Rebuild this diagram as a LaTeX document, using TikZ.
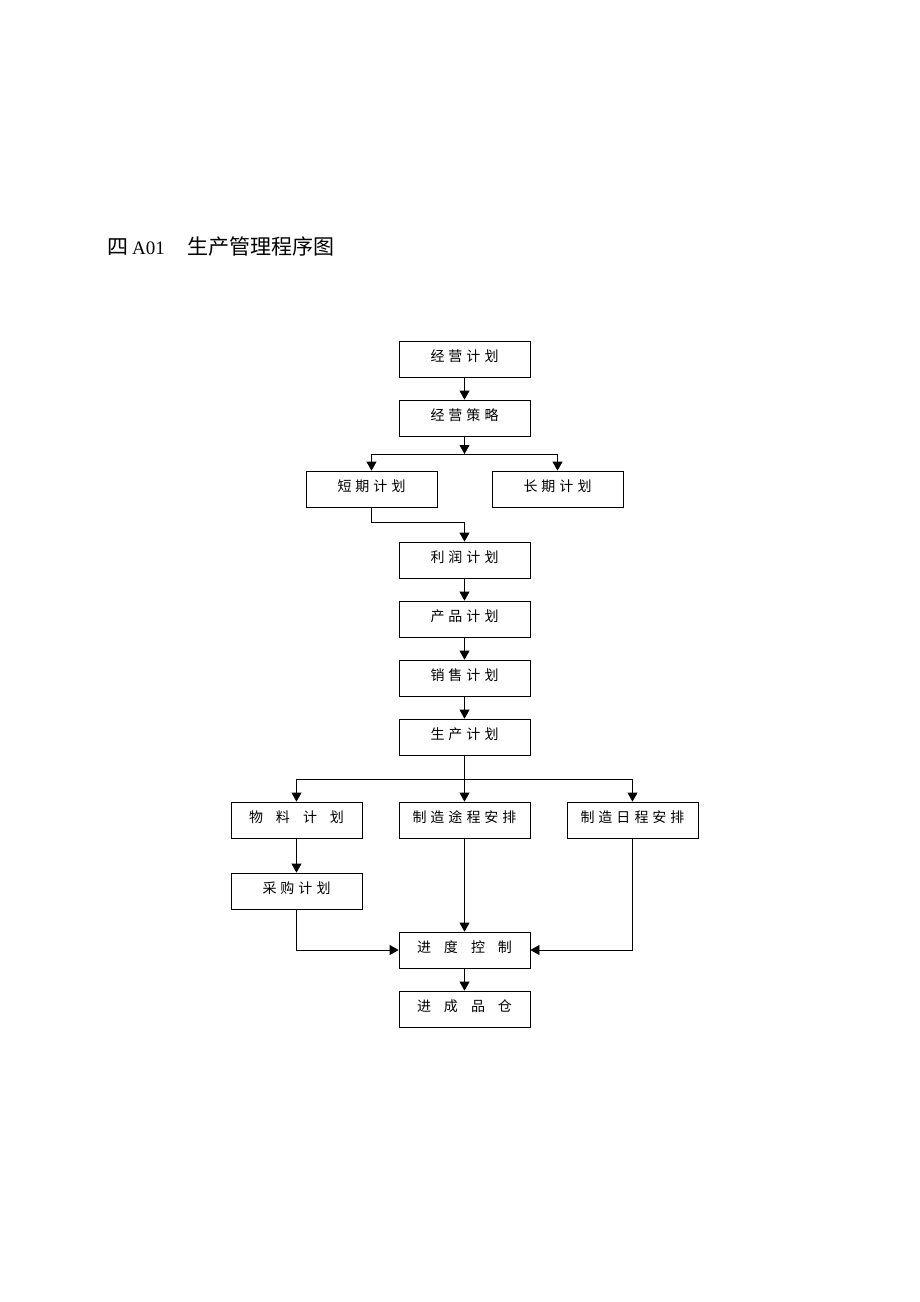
\documentclass[tikz,border=0pt]{standalone}
\usepackage{fontspec}
\setmainfont{Liberation Serif}
\newfontfamily\cjk{Noto Sans CJK SC}
\usetikzlibrary{arrows.meta}
\newcommand\cgap{\hspace{4pt}}
\newcommand\wgap{\hspace{13pt}}

\begin{document}
\begin{tikzpicture}[x=1pt,y=-1pt,
    box/.style={rectangle,draw,line width=0.8pt,minimum width=131pt,minimum height=36pt,inner sep=0pt,
      text height=12pt,text depth=7pt,font=\cjk\fontsize{14pt}{14pt}\selectfont},
    link/.style={-{Triangle[length=9pt,width=10pt]},line width=0.8pt},
    wire/.style={line width=0.8pt}]
    \useasboundingbox (0,0) rectangle (920,1302);
    % title
    \node[anchor=base west,inner sep=0pt] (title) at (107,254)
      {{\cjk\fontsize{21pt}{21pt}\selectfont 四}\hspace{4pt}{\fontsize{19pt}{19pt}\selectfont A01}\hspace{23pt}{\cjk\fontsize{21pt}{21pt}\selectfont 生产管理程序图}};
    %
    \node[box] (a_1) at (464.5,359) {经\cgap 营\cgap 计\cgap 划};
    \node[box] (b_1) at (464.5,418) {经\cgap 营\cgap 策\cgap 略};
    \node[box] (c_1) at (371.5,489) {短\cgap 期\cgap 计\cgap 划};
    \node[box] (c_2) at (557.5,489) {长\cgap 期\cgap 计\cgap 划};
    \node[box] (d_1) at (464.5,560) {利\cgap 润\cgap 计\cgap 划};
    \node[box] (e_1) at (464.5,619) {产\cgap 品\cgap 计\cgap 划};
    \node[box] (f_1) at (464.5,678) {销\cgap 售\cgap 计\cgap 划};
    \node[box] (g_1) at (464.5,737) {生\cgap 产\cgap 计\cgap 划};
    %
    \node[box] (h_1) at (296.5,820) {物\wgap 料\wgap 计\wgap 划};
    \node[box] (h_2) at (464.5,820) {制\cgap 造\cgap 途\cgap 程\cgap 安\cgap 排};
    \node[box] (h_3) at (632.5,820) {制\cgap 造\cgap 日\cgap 程\cgap 安\cgap 排};
    \node[box] (i_1) at (296.5,891) {采\cgap 购\cgap 计\cgap 划};
    \node[box] (j_1) at (464.5,950) {进\wgap 度\wgap 控\wgap 制};
    \node[box] (k_1) at (464.5,1009) {进\wgap 成\wgap 品\wgap 仓};
    %
    \coordinate (s_1) at (464.5,454);
    \coordinate (s_2) at (464.5,522);
    \coordinate (s_3) at (464.5,779);
    %
    \draw[link] (a_1) -- (b_1);
    \draw[link] (b_1) -- (s_1);
    \draw[link] (s_1) -| (c_1);
    \draw[link] (s_1) -| (c_2);
    \draw[link] (c_1) |- (s_2) -- (d_1);
    \draw[link] (d_1) -- (e_1);
    \draw[link] (e_1) -- (f_1);
    \draw[link] (f_1) -- (g_1);
    \draw[wire] (g_1) -- (s_3);
    \draw[link] (s_3) -| (h_1);
    \draw[link] (s_3) -- (h_2);
    \draw[link] (s_3) -| (h_3);
    \draw[link] (h_1) -- (i_1);
    \draw[link] (i_1) |- (j_1);
    \draw[link] (h_2) -- (j_1);
    \draw[link] (h_3) |- (j_1);
    \draw[link] (j_1) -- (k_1);
\end{tikzpicture}
\end{document}
